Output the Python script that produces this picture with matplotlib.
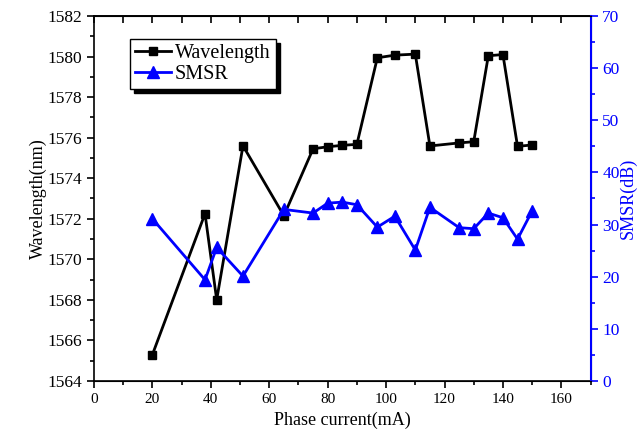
import matplotlib.pyplot as plt
from matplotlib.ticker import MultipleLocator, NullLocator

plt.rcParams['font.family'] = ['Liberation Serif', 'DejaVu Serif']

current = [20, 38, 42, 51, 65, 75, 80, 85, 90, 97, 103, 110, 115, 125, 130, 135, 140, 145, 150]
wavelength = [1565.3, 1572.25, 1568.0, 1575.6, 1572.15, 1575.45, 1575.55, 1575.62, 1575.67,
              1579.94, 1580.07, 1580.12, 1575.59, 1575.74, 1575.8, 1580.04, 1580.1, 1575.57, 1575.64]
smsr = [31.1, 19.4, 25.6, 20.1, 32.9, 32.2, 34.1, 34.3, 33.8,
        29.5, 31.6, 25.1, 33.3, 29.4, 29.2, 32.2, 31.3, 27.2, 32.6]

fig = plt.figure(figsize=(6.44, 4.45), dpi=100)
ax = fig.add_axes([0.146, 0.144, 0.771, 0.820])
ax2 = ax.twinx()

l1, = ax.plot(current, wavelength, color='black', marker='s', markersize=6, linewidth=2,
              label='Wavelength', zorder=3)
l2, = ax2.plot(current, smsr, color='blue', marker='^', markersize=8, linewidth=2,
               label='SMSR', zorder=3)

ax.set_xlim(0, 170)
ax.set_ylim(1564, 1582)
ax2.set_ylim(0, 70)

ax.xaxis.set_major_locator(MultipleLocator(20))
ax.xaxis.set_minor_locator(MultipleLocator(10))
ax.yaxis.set_major_locator(MultipleLocator(2))
ax.yaxis.set_minor_locator(MultipleLocator(1))
ax2.yaxis.set_major_locator(MultipleLocator(10))
ax2.yaxis.set_minor_locator(MultipleLocator(5))

ax.tick_params(axis='both', which='major', direction='out', length=5, width=1.2, labelsize=12.5)
ax.tick_params(axis='both', which='minor', direction='out', length=3, width=1.2)
ax.tick_params(axis='x', which='major', labelsize=11)
ax2.tick_params(axis='y', which='major', direction='out', length=5, width=1.2,
                colors='blue', labelsize=12.5)
ax2.tick_params(axis='y', which='minor', direction='out', length=3, width=1.2, colors='blue')

# top axis: inward ticks every 10, no labels
top = ax.secondary_xaxis('top')
top.xaxis.set_major_locator(MultipleLocator(10))
top.xaxis.set_minor_locator(NullLocator())
top.tick_params(direction='in', length=5, width=1.2, labeltop=False)
top.spines['top'].set_linewidth(1.2)

for s in ['left', 'bottom', 'top']:
    ax.spines[s].set_linewidth(1.2)
ax2.spines['right'].set_color('blue')
ax2.spines['right'].set_linewidth(1.5)
ax2.spines['left'].set_visible(False)

ax.set_xlabel('Phase current(mA)', fontsize=13)
ax.set_ylabel('Wavelength(nm)', fontsize=13, labelpad=0)
ax2.set_ylabel('SMSR(dB)', fontsize=13, color='blue', labelpad=0)

leg = ax2.legend(handles=[l1, l2], loc='upper left', bbox_to_anchor=(0.072, 0.937),
                 borderaxespad=0, fancybox=False,
                 shadow={'color': 'black', 'alpha': 1, 'ox': 3, 'oy': -3},
                 edgecolor='black', fontsize=14.5, handlelength=1.8, handletextpad=0.2,
                 borderpad=0.25, labelspacing=0.1)
leg.get_frame().set_linewidth(1)

fig.savefig('out.png', dpi=100)
